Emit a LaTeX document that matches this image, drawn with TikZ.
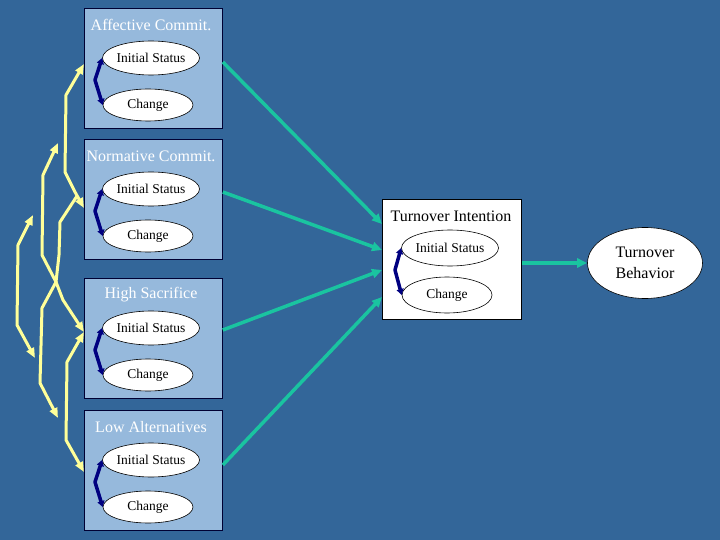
\documentclass[tikz,border=0pt]{standalone}
\usepackage{fontspec}
\setmainfont{Liberation Serif}
\usetikzlibrary{arrows.meta,shapes.geometric}
\definecolor{bgblue}{RGB}{51,102,153}
\definecolor{boxblue}{RGB}{150,185,220}
\definecolor{paleyellow}{RGB}{255,255,153}
\definecolor{tealgreen}{RGB}{26,196,160}
\definecolor{darknavy}{RGB}{0,0,128}
\begin{document}
\begin{tikzpicture}[x=1pt,y=-1pt,
  factor/.style={draw=black!80!blue, line width=0.8pt, fill=boxblue, minimum width=138pt, minimum height=120pt, anchor=north west, inner sep=0pt},
  ttl/.style={text=white, font=\fontsize{16}{19}\selectfont, inner sep=0pt},
  ell/.style={ellipse, draw=black, line width=0.6pt, fill=white, inner sep=0pt, font=\fontsize{13.5}{16}\selectfont},
  isell/.style={ell, minimum width=96pt, minimum height=34pt},
  chell/.style={ell, minimum width=90pt, minimum height=32pt},
  navyarr/.style={draw=darknavy, line width=3.5pt, line join=round, {Triangle[length=6pt,width=7pt]}-{Triangle[length=6pt,width=7pt]}},
  grn/.style={draw=tealgreen, line width=3.5pt, -{Triangle[length=10pt,width=9pt]}},
  yel/.style={draw=paleyellow, line width=3pt, line join=round}
]
\fill[bgblue] (0,0) rectangle (720,540);
\useasboundingbox (0,0) rectangle (720,540);

\foreach \k/\tp/\nm in {1/8/Affective Commit., 2/139/Normative Commit., 3/278/High Sacrifice, 4/410/Low Alternatives}{
  \node[factor] (b\k) at (84,\tp) {};
  \node[ttl] (t\k) at (151,\tp+17) {\nm};
  \node[isell] (i\k) at (151,\tp+50) {Initial Status};
  \node[chell] (c\k) at (148,\tp+97) {Change};
  \draw[navyarr] (i\k.west) -- (95,\tp+72) -- (c\k.west);
}

% Turnover Intention
\node[draw=black, line width=0.8pt, fill=white, minimum width=139pt, minimum height=120pt, anchor=north west, inner sep=0pt] (ti) at (382,199) {};
\node[font=\fontsize{16}{19}\selectfont, inner sep=0pt] (tit) at (451,216) {Turnover Intention};
\node[ell, minimum width=96pt, minimum height=36pt] (tii) at (450,248) {Initial Status};
\node[ell, minimum width=90pt, minimum height=36pt] (tic) at (447,295) {Change};
\draw[navyarr] (tii.west) -- (395,270) -- (tic.west);

% Turnover Behavior
\node[ell, minimum width=115pt, minimum height=71pt, align=center, font=\fontsize{16}{20.5}\selectfont] (tb) at (645,263) {Turnover\\Behavior};

% green paths
\draw[grn] (b1.east |- 0,62) -- (ti.west |- 0,224);
\draw[grn] (b2.east |- 0,192) -- (ti.west |- 0,250);
\draw[grn] (b3.east |- 0,330) -- (ti.west |- 0,270);
\draw[grn] (b4.east |- 0,465) -- (ti.west |- 0,297);
\draw[grn] (ti.east |- 0,263) -- (tb.west);

% yellow correlations
\coordinate (y13a) at (58,143);
\coordinate (y14a) at (33,215);
\coordinate (y14b) at (35,358);
\coordinate (y24a) at (77,196);
\coordinate (y24b) at (58,418);
\draw[yel, {Triangle[length=10pt,width=8pt]}-{Triangle[length=10pt,width=8pt]}] (b1.west |- 0,64) -- (66,95) -- (65,172) -- (75,192) -- (b2.west |- 0,208);
\draw[yel, {Triangle[length=10pt,width=8pt]}-{Triangle[length=10pt,width=8pt]}] (y13a) -- (43,175) -- (42,255) -- (56,282) -- (63,300) -- (b3.west |- 0,332);
\draw[yel, {Triangle[length=10pt,width=8pt]}-{Triangle[length=10pt,width=8pt]}] (y14a) -- (18,245) -- (17,325) -- (y14b);
\draw[yel, -{Triangle[length=10pt,width=8pt]}] (y24a) -- (60,222) -- (59,255) -- (56,282) -- (42,308) -- (40,383) -- (y24b);
\draw[yel, {Triangle[length=10pt,width=8pt]}-{Triangle[length=10pt,width=8pt]}] (b3.west |- 0,332) -- (67,362) -- (66,440) -- (b4.west |- 0,472);
\end{tikzpicture}
\end{document}
